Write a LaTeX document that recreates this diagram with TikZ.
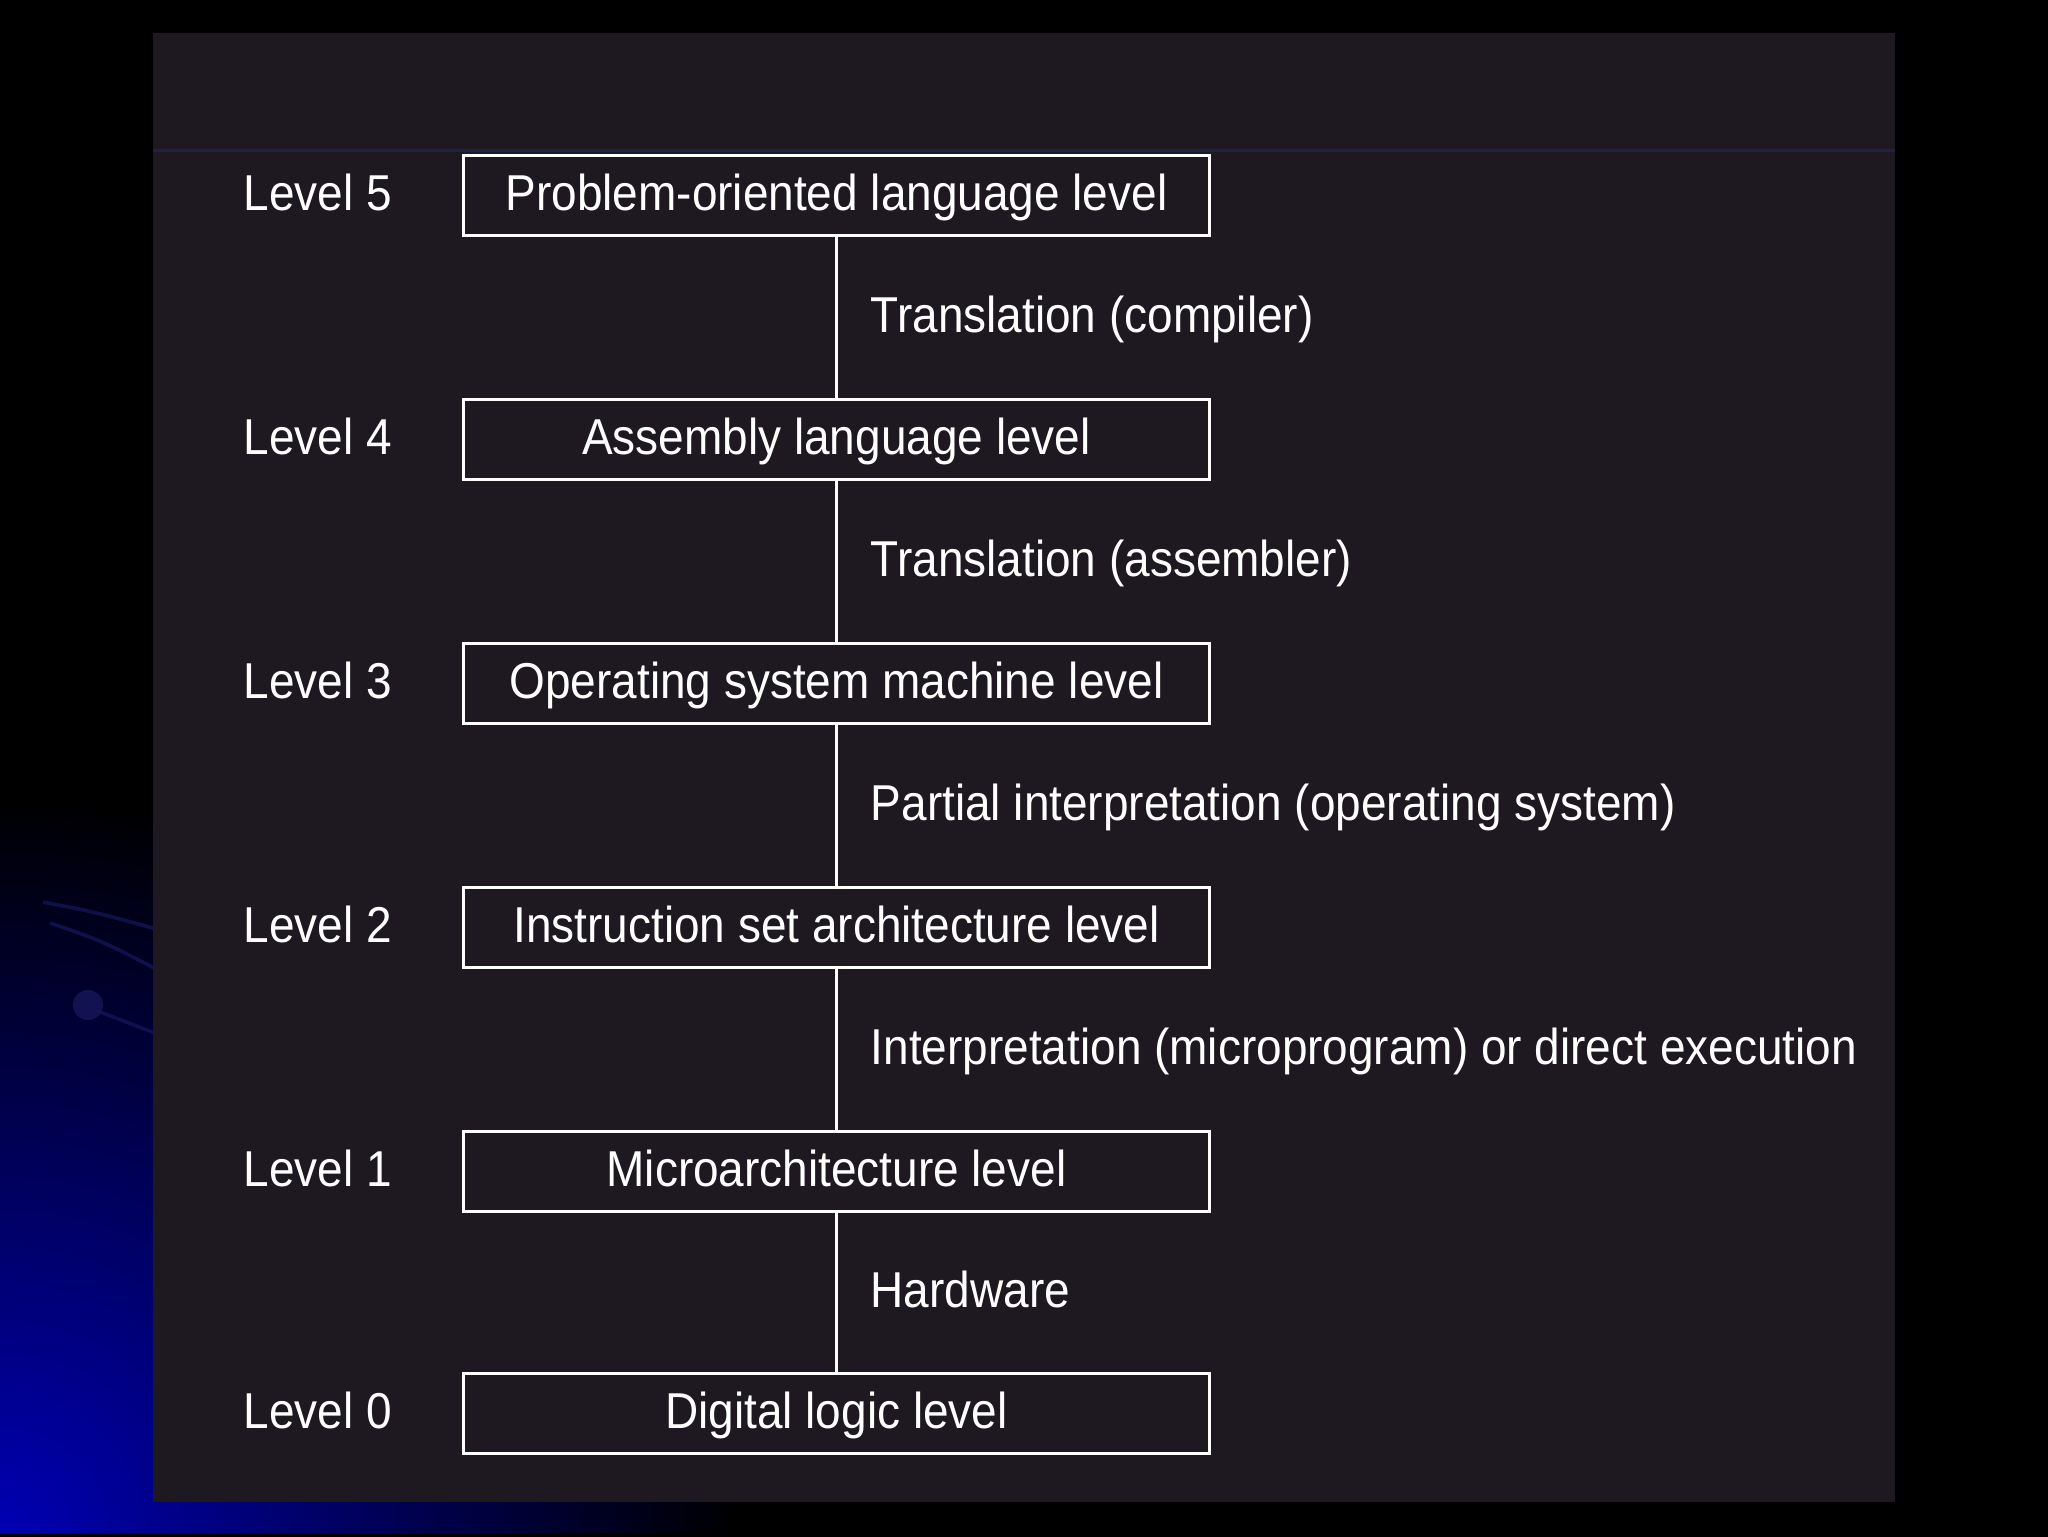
\documentclass[tikz,border=0pt]{standalone}
\usepackage{fontspec}
\setmainfont{Liberation Sans}[FakeStretch=0.912]
\definecolor{panel}{RGB}{30,25,32}
\definecolor{cornerblue}{RGB}{0,0,180}
\definecolor{streak}{RGB}{20,20,85}
\definecolor{streakline}{RGB}{32,32,72}
\begin{document}
\begin{tikzpicture}[x=0.25pt,y=-0.25pt,
  txt/.style={text=white, inner sep=0pt, font=\fontsize{12.6}{14}\selectfont, text height=9pt, text depth=1.5pt},
  levelbox/.style={txt, draw=white, line width=0.75pt, minimum width=186.5pt, minimum height=20pt},
  levellabel/.style={txt, anchor=west},
  steplabel/.style={txt, anchor=west},
  link/.style={draw=white, line width=0.75pt}]
\useasboundingbox (0,0) rectangle (2048,1536);
\fill[black] (-20,-20) rectangle (2068,1556);
\begin{scope}
  \clip (-20,-20) rectangle (2068,1556);
  \shade[inner color=cornerblue, outer color=black] (-740,796) rectangle (740,2276);
\end{scope}
% decorative arcs of the slide template
\draw[streak, line width=0.9pt, opacity=0.8] (43,902) .. controls (95,912) .. (160,930);
\draw[streak, line width=0.9pt, opacity=0.8] (50,923) .. controls (100,940) .. (160,971);
\draw[streak, line width=0.9pt, opacity=0.8] (95,1010) -- (160,1035);
\fill[streak, opacity=0.9] (88,1005) circle[radius=3.75pt];
\fill[black] (-20,1533) rectangle (2068,1556);
% panel
\fill[panel] (153,33) rectangle (1895,1502);
\draw[streakline, line width=0.75pt] (153,150) -- (1895,150);

% boxes
\node[levelbox] (b5) at (836.5,195.5) {Problem-oriented language level};
\node[levelbox] (b4) at (836.5,439.5) {Assembly language level};
\node[levelbox] (b3) at (836.5,683.5) {Operating system machine level};
\node[levelbox] (b2) at (836.5,927.5) {Instruction set architecture level};
\node[levelbox] (b1) at (836.5,1171) {Microarchitecture level};
\node[levelbox] (b0) at (836.5,1413.5) {Digital logic level};

% level labels
\node[levellabel] (l5) at (243,195.5) {Level 5};
\node[levellabel] (l4) at (243,439.5) {Level 4};
\node[levellabel] (l3) at (243,683.5) {Level 3};
\node[levellabel] (l2) at (243,927.5) {Level 2};
\node[levellabel] (l1) at (243,1171) {Level 1};
\node[levellabel] (l0) at (243,1413.5) {Level 0};

% connectors
\draw[link] (b5) -- (b4);
\draw[link] (b4) -- (b3);
\draw[link] (b3) -- (b2);
\draw[link] (b2) -- (b1);
\draw[link] (b1) -- (b0);

% connector labels
\node[steplabel] (t54) at (870,317.5) {Translation (compiler)};
\node[steplabel] (t43) at (870,561.5) {Translation (assembler)};
\node[steplabel] (t32) at (870,805.5) {Partial interpretation (operating system)};
\node[steplabel] (t21) at (870,1049.5) {Interpretation (microprogram) or direct execution};
\node[steplabel] (t10) at (870,1292.5) {Hardware};
\end{tikzpicture}
\end{document}
